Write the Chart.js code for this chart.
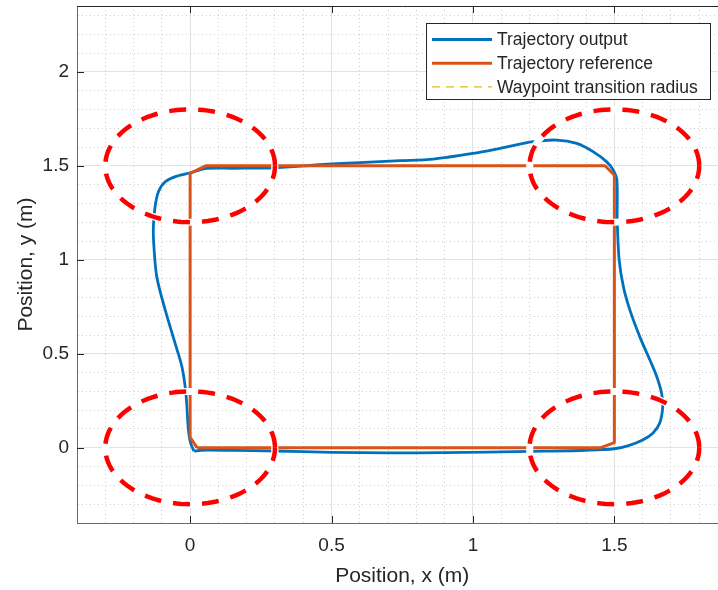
<!DOCTYPE html>
<html>
<head>
<meta charset="utf-8">
<script src="https://cdn.jsdelivr.net/npm/chart.js@4.4.0/dist/chart.umd.min.js"></script>
<style>
html, body { margin: 0; padding: 0; overflow: hidden; background: #fff; }
#wrap { position: relative; width: 730px; height: 590px; }
</style>
</head>
<body>
<div id="wrap"><canvas id="chart" width="730" height="590"></canvas></div>
<script>
// trajectory output
const OUTPUT_X = [0.014, 0.04, 0.15, 0.3, 0.5, 0.7, 0.9, 1.05, 1.25, 1.4, 1.5, 1.55, 1.6, 1.636, 1.66, 1.671, 1.667, 1.65, 1.626, 1.59, 1.555, 1.532, 1.517, 1.51, 1.509, 1.496, 1.473, 1.426, 1.367, 1.296, 1.213, 1.096, 1.0, 0.86, 0.742, 0.6, 0.471, 0.294, 0.15, 0.059, 0.0, -0.047, -0.088, -0.112, -0.124, -0.13, -0.128, -0.118, -0.088, -0.053, -0.029, -0.015, -0.006, 0.002, 0.014];
const OUTPUT_Y = [-0.018, -0.013, -0.014, -0.017, -0.024, -0.027, -0.026, -0.023, -0.018, -0.013, -0.005, 0.012, 0.042, 0.078, 0.13, 0.218, 0.29, 0.378, 0.466, 0.59, 0.732, 0.856, 0.998, 1.21, 1.424, 1.477, 1.521, 1.574, 1.619, 1.637, 1.628, 1.593, 1.566, 1.536, 1.527, 1.517, 1.507, 1.489, 1.487, 1.486, 1.463, 1.445, 1.415, 1.362, 1.282, 1.176, 1.07, 0.91, 0.732, 0.555, 0.431, 0.289, 0.094, 0.023, -0.018];

// trajectory reference
const REF_X = [0.025, 1.45, 1.5, 1.5, 1.467, 0.055, 0, 0, 0.025];
const REF_Y = [0, 0, 0.028, 1.45, 1.5, 1.5, 1.46, 0.055, 0];

// waypoints and transition radius
const WAYPOINT_X = [0, 0, 1.5, 1.5];
const WAYPOINT_Y = [0, 1.5, 1.5, 0];
const TRANSITION_RADIUS = 0.3;

const X_TICKS = [0, 0.5, 1, 1.5];
const Y_TICKS = [0, 0.5, 1, 1.5, 2];
const X_MIN = -0.4, X_MAX = 1.9;
const Y_MIN = -0.4, Y_MAX = 2.35;

const LEGEND_LABELS = ['Trajectory output', 'Trajectory reference', 'Waypoint transition radius'];
const X_TITLE = 'Position, x (m)';
const Y_TITLE = 'Position, y (m)';

const TEXT = '#262626';

function toPoints(xs, ys) {
    return xs.map(function(x, i) { return { x: x, y: ys[i] }; });
}

// circle outlines round each waypoint, split by gaps
var circlePts = [];
WAYPOINT_X.forEach(function(cx, k) {
    var cy = WAYPOINT_Y[k];
    for (var i = 0; i <= 120; i++) {
        var a = i / 120 * Math.PI * 2;
        circlePts.push({ x: cx + TRANSITION_RADIUS * Math.cos(a), y: cy + TRANSITION_RADIUS * Math.sin(a) });
    }
    circlePts.push({ x: null, y: null });
});

var xGrid = [], yGrid = [];
for (var i = Math.round(X_MIN * 10); i <= Math.floor(X_MAX * 10); i++) xGrid.push(i / 10);
for (var j = Math.round(Y_MIN * 10); j <= Math.floor(Y_MAX * 10); j++) yGrid.push(j / 10);

function isMajor(v, list) {
    return list.some(function(t) { return Math.abs(t - v) < 1e-9; });
}

// box on top + inward tick marks, like matlab
const axesBox = {
    id: 'axesBox',
    beforeDatasetsDraw: function(chart) {
        var ctx = chart.ctx, a = chart.chartArea, xs = chart.scales.x, ys = chart.scales.y;
        ctx.save();
        ctx.strokeStyle = TEXT;
        ctx.lineWidth = 1;
        ctx.beginPath();
        ctx.moveTo(a.left, a.top + 0.5);
        ctx.lineTo(a.right, a.top + 0.5);
        X_TICKS.forEach(function(v) {
            var px = Math.round(xs.getPixelForValue(v)) + 0.5;
            ctx.moveTo(px, a.bottom); ctx.lineTo(px, a.bottom - 7);
            ctx.moveTo(px, a.top); ctx.lineTo(px, a.top + 7);
        });
        Y_TICKS.forEach(function(v) {
            var py = Math.round(ys.getPixelForValue(v)) + 0.5;
            ctx.moveTo(a.left, py); ctx.lineTo(a.left + 7, py);
            ctx.moveTo(a.right, py); ctx.lineTo(a.right - 7, py);
        });
        ctx.stroke();
        ctx.restore();
    }
};

const boxLegend = {
    id: 'boxLegend',
    afterDraw: function(chart) {
        var ctx = chart.ctx, a = chart.chartArea;
        var w = 284, h = 76;
        var x = a.right - 17.5 - w, y = a.top + 17;
        ctx.save();
        ctx.fillStyle = '#fff';
        ctx.fillRect(x, y, w, h);
        ctx.strokeStyle = TEXT;
        ctx.lineWidth = 1;
        ctx.strokeRect(Math.round(x) + 0.5, Math.round(y) + 0.5, w, h);
        var styles = [
            { color: '#0072BD', width: 3, dash: [] },
            { color: '#D95319', width: 3, dash: [] },
            { color: '#EDB120', width: 1.3, dash: [8, 6] }
        ];
        ctx.font = '17.5px "Liberation Sans", Arial, sans-serif';
        ctx.textBaseline = 'middle';
        LEGEND_LABELS.forEach(function(label, k) {
            var ry = y + 16.5 + k * 23.7;
            var s = styles[k];
            ctx.beginPath();
            ctx.setLineDash(s.dash);
            ctx.strokeStyle = s.color;
            ctx.lineWidth = s.width;
            ctx.moveTo(x + 6, ry);
            ctx.lineTo(x + 66, ry);
            ctx.stroke();
            ctx.setLineDash([]);
            ctx.fillStyle = TEXT;
            ctx.fillText(label, x + 71, ry + 1);
        });
        ctx.restore();
    }
};

Chart.defaults.font.family = '"Liberation Sans", Arial, sans-serif';
Chart.defaults.color = TEXT;

function gridColor(ctx, list) {
    if (!ctx.tick) return 'rgba(0,0,0,0)';
    return isMajor(ctx.tick.value, list) ? '#e2e2e2' : '#cdcdcd';
}
function gridDash(ctx, list) {
    if (!ctx.tick) return [];
    return isMajor(ctx.tick.value, list) ? [] : [1, 3];
}

new Chart(document.getElementById('chart').getContext('2d'), {
    type: 'scatter',
    data: {
        datasets: [
            {
                label: 'radius',
                data: circlePts,
                showLine: true,
                spanGaps: false,
                borderColor: '#FF0000',
                borderWidth: 4.5,
                borderDash: [17, 12],
                pointRadius: 0,
                order: 0
            },
            {
                label: 'radius halo',
                data: circlePts,
                showLine: true,
                spanGaps: false,
                borderColor: '#FFFFFF',
                borderWidth: 7,
                pointRadius: 0,
                order: 1
            },
            {
                label: LEGEND_LABELS[1],
                data: toPoints(REF_X, REF_Y),
                showLine: true,
                borderColor: '#D95319',
                borderWidth: 3,
                borderJoinStyle: 'round',
                pointRadius: 0,
                order: 2
            },
            {
                label: LEGEND_LABELS[0],
                data: toPoints(OUTPUT_X, OUTPUT_Y),
                showLine: true,
                borderColor: '#0072BD',
                borderWidth: 2.8,
                tension: 0.3,
                pointRadius: 0,
                order: 3
            }
        ]
    },
    options: {
        responsive: false,
        animation: false,
        layout: { padding: { left: 0, top: 6, right: 2.5, bottom: 0 } },
        plugins: {
            legend: { display: false },
            tooltip: { enabled: false }
        },
        scales: {
            x: {
                type: 'linear',
                min: X_MIN,
                max: X_MAX,
                afterBuildTicks: function(s) { s.ticks = xGrid.map(function(v) { return { value: v }; }); },
                afterFit: function(s) { s.height = 67; s.paddingLeft = 0; s.paddingRight = 0; },
                ticks: {
                    autoSkip: false,
                    maxRotation: 0,
                    padding: 11,
                    color: TEXT,
                    font: { size: 19 },
                    callback: function(v) { return isMajor(v, X_TICKS) ? String(v) : ''; }
                },
                grid: {
                    drawTicks: false,
                    lineWidth: 1,
                    color: function(ctx) { return gridColor(ctx, X_TICKS); }
                },
                border: {
                    color: '#6a6a6a',
                    width: 1,
                    dash: function(ctx) { return gridDash(ctx, X_TICKS); }
                },
                title: {
                    display: true,
                    text: X_TITLE,
                    color: TEXT,
                    font: { size: 21 },
                    padding: { top: 0, bottom: 1 }
                }
            },
            y: {
                type: 'linear',
                min: Y_MIN,
                max: Y_MAX,
                afterBuildTicks: function(s) { s.ticks = yGrid.map(function(v) { return { value: v }; }); },
                afterFit: function(s) { s.width = 77; s.paddingTop = 0; s.paddingBottom = 0; },
                ticks: {
                    autoSkip: false,
                    padding: 8,
                    color: TEXT,
                    font: { size: 19 },
                    callback: function(v) { return isMajor(v, Y_TICKS) ? String(v) : ''; }
                },
                grid: {
                    drawTicks: false,
                    lineWidth: 1,
                    color: function(ctx) { return gridColor(ctx, Y_TICKS); }
                },
                border: {
                    color: '#6a6a6a',
                    width: 1,
                    dash: function(ctx) { return gridDash(ctx, Y_TICKS); }
                },
                title: {
                    display: true,
                    text: Y_TITLE,
                    color: TEXT,
                    font: { size: 21 },
                    padding: { top: 14, bottom: 0 }
                }
            }
        }
    },
    plugins: [axesBox, boxLegend]
});
</script>
</body>
</html>
